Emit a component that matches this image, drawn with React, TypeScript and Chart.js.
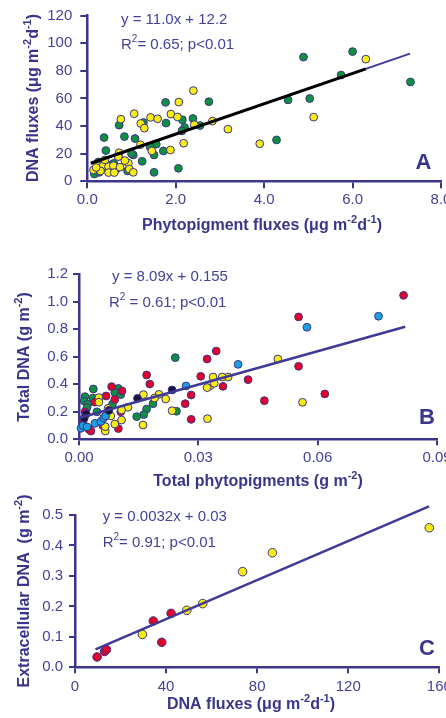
import React, { useEffect, useRef } from "react";
import { Chart, registerables } from "chart.js";

Chart.register(...registerables);

const PAGE_W = 446;
const PAGE_H = 718;
const FONT = '"Liberation Sans", Arial, Helvetica, sans-serif';
const AXIS_COLOR = "#3b368c";
const TEXT_COLOR = "#45419a";
const TITLE_COLOR = "#3a358b";
const PT_BORDER = "#3a3584";
const GREEN = "#0f9040";
const YELLOW = "#f8ec10";
const RED = "#e1022c";
const BLUE = "#1ba1e2";
const BLACK = "#16113a";
const FIT_PURPLE = "#3f3a97";
const FIT_BLACK = "#000000";

// ---------------- Panel A ----------------
const aXTicks = [0, 2, 4, 6, 8];
const aXLabels = ["0.0", "2.0", "4.0", "6.0", "8.0"];
const aYTicks = [0, 20, 40, 60, 80, 100, 120];
const aYLabels = ["0", "20", "40", "60", "80", "100", "120"];
const aGreenX = [4.89, 6.0, 7.31, 5.74, 4.54, 5.03, 4.28, 2.75, 1.77, 1.78, 2.39, 2.15, 2.2, 2.14, 2.55, 1.27, 0.72, 0.38, 0.84, 1.08, 0.42, 1.04, 1.24, 1.51, 1.51, 2.06, 1.72, 1.56, 1.42, 0.91, 0.16, 0.27, 0.35, 0.55, 0.65, 0.25, 0.7, 0.45, 1.0, 0.6, 0.4];
const aGreenY = [90, 94, 72, 77, 59, 60, 30, 57.7, 57.2, 42.2, 45.5, 44.6, 39, 36.5, 40.4, 42.6, 40.7, 31.7, 32.4, 31, 22.3, 19.1, 14.5, 19.1, 6.5, 9.4, 22, 26.9, 25, 7.5, 5.3, 6.5, 12, 12, 8.5, 14, 18, 9, 20, 13, 13.5];
const aYellowX = [6.3, 5.12, 3.9, 2.4, 2.07, 1.06, 0.76, 1.43, 1.59, 1.89, 2.04, 1.21, 1.29, 2.42, 2.83, 3.18, 2.18, 1.88, 1.46, 1.2, 0.72, 0.14, 0.235, 0.36, 0.48, 0.59, 0.48, 0.61, 0.74, 0.93, 0.95, 1.04, 0.7, 0.4, 0.3, 0.2, 0.85];
const aYellowY = [88.5, 46.5, 27.2, 65.7, 57.4, 49, 45, 46.3, 45.3, 48.7, 46.6, 41.9, 38.5, 41, 43.6, 37.8, 27.6, 22.7, 22, 26.5, 20.7, 8.2, 11.3, 11.3, 10.6, 11.3, 6.3, 6.3, 10.2, 13.1, 8.9, 6.5, 17.9, 15.5, 7.5, 10, 15];
const aFitX = [0.08, 7.3];
const aFitY = [13.1, 92.5];
const aFitBlackX = [0.08, 6.3];
const aFitBlackY = [13.1, 81.5];

// ---------------- Panel B ----------------
const bXTicks = [0, 0.03, 0.06, 0.09];
const bXLabels = ["0.00", "0.03", "0.06", "0.09"];
const bYTicks = [0, 0.2, 0.4, 0.6, 0.8, 1.0, 1.2];
const bYLabels = ["0.0", "0.2", "0.4", "0.6", "0.8", "1.0", "1.2"];
const bRedX = [0.0816, 0.0552, 0.0552, 0.0618, 0.0466, 0.0425, 0.0362, 0.0345, 0.0322, 0.0306, 0.0282, 0.0282, 0.0267, 0.017, 0.0178, 0.0082, 0.0068, 0.0108, 0.009, 0.0025, 0.0099, 0.0015, 0.004, 0.0105, 0.003, 0.006, 0.001];
const bRedY = [1.047, 0.89, 0.531, 0.33, 0.281, 0.434, 0.385, 0.642, 0.584, 0.458, 0.322, 0.145, 0.259, 0.468, 0.402, 0.383, 0.315, 0.352, 0.29, 0.073, 0.078, 0.2, 0.27, 0.2, 0.06, 0.1, 0.12];
const bGreenX = [0.0242, 0.0245, 0.0186, 0.017, 0.0163, 0.0145, 0.0036, 0.0015, 0.0013, 0.0022, 0.0099, 0.009, 0.0105, 0.0084, 0.0035, 0.002, 0.0045];
const bGreenY = [0.594, 0.204, 0.259, 0.22, 0.18, 0.165, 0.366, 0.31, 0.279, 0.255, 0.37, 0.34, 0.325, 0.255, 0.3, 0.23, 0.2];
const bYellowX = [0.05, 0.0562, 0.0323, 0.0375, 0.036, 0.0337, 0.033, 0.0322, 0.034, 0.0234, 0.0218, 0.0201, 0.0162, 0.0161, 0.0123, 0.0107, 0.0107, 0.009, 0.0066, 0.0066, 0.005, 0.005, 0.0073, 0.019, 0.008];
const bYellowY = [0.584, 0.269, 0.15, 0.453, 0.453, 0.453, 0.39, 0.376, 0.407, 0.208, 0.293, 0.327, 0.325, 0.104, 0.233, 0.213, 0.14, 0.111, 0.06, 0.092, 0.303, 0.27, 0.225, 0.3, 0.17];
const bBlueX = [0.0753, 0.0573, 0.04, 0.0269, 0.0005, 0.001, 0.004, 0.0055, 0.0062, 0.0067, 0.002];
const bBlueY = [0.895, 0.815, 0.545, 0.388, 0.08, 0.1, 0.116, 0.13, 0.155, 0.17, 0.09];
const bBlackX = [0.0234, 0.0147, 0.0075, 0.0018, 0.0013];
const bBlackY = [0.359, 0.298, 0.21, 0.185, 0.153];
const bFitX = [0.0, 0.082];
const bFitY = [0.155, 0.818];

// ---------------- Panel C ----------------
const cXTicks = [0, 40, 80, 120, 160];
const cXLabels = ["0", "40", "80", "120", "160"];
const cYTicks = [0, 0.1, 0.2, 0.3, 0.4, 0.5];
const cYLabels = ["0.0", "0.1", "0.2", "0.3", "0.4", "0.5"];
const cRedX = [9.7, 13.0, 13.8, 34.4, 38.1, 42.2];
const cRedY = [0.034, 0.052, 0.058, 0.152, 0.082, 0.177];
const cYellowX = [29.6, 49.1, 56.1, 73.6, 86.7, 155.6];
const cYellowY = [0.108, 0.187, 0.209, 0.314, 0.376, 0.458];
const cFitX = [9, 155.5];
const cFitY = [0.059, 0.528];

type Seg = { t: string; sup?: boolean };
type TextItem = {
  segs: Seg[];
  x: number;
  y: number;
  size: number;
  bold?: boolean;
  align: "left" | "center";
  rot?: boolean;
  color: string;
};

function fontOf(size: number, bold?: boolean) {
  return `${bold ? "bold " : ""}${size}px ${FONT}`;
}

function drawRich(ctx: CanvasRenderingContext2D, item: TextItem) {
  const supSize = Math.round(item.size * 0.68);
  let total = 0;
  const widths = item.segs.map((s) => {
    ctx.font = fontOf(s.sup ? supSize : item.size, item.bold);
    const w = ctx.measureText(s.t).width;
    total += w;
    return w;
  });
  ctx.save();
  ctx.translate(item.x, item.y);
  if (item.rot) ctx.rotate(-Math.PI / 2);
  let x = item.align === "center" ? -total / 2 : 0;
  ctx.fillStyle = item.color;
  ctx.textBaseline = "middle";
  ctx.textAlign = "left";
  item.segs.forEach((s, i) => {
    ctx.font = fontOf(s.sup ? supSize : item.size, item.bold);
    ctx.fillText(s.t, x, s.sup ? -item.size * 0.36 : 0);
    x += widths[i];
  });
  ctx.restore();
}

function textPlugin(items: TextItem[]) {
  return {
    id: "richText",
    afterDraw(chart: any) {
      const ctx = chart.ctx as CanvasRenderingContext2D;
      items.forEach((it) => drawRich(ctx, it));
    },
  };
}

function pts(xs: number[], ys: number[]) {
  return xs.map((x, i) => ({ x, y: ys[i] }));
}

function scatterSet(xs: number[], ys: number[], color: string, r: number) {
  return {
    data: pts(xs, ys),
    backgroundColor: color,
    borderColor: PT_BORDER,
    borderWidth: 1,
    pointRadius: r,
    pointHoverRadius: r,
    clip: false,
    order: 2,
  };
}

function lineSet(xs: number[], ys: number[], color: string, w: number, order: number) {
  return {
    data: pts(xs, ys),
    borderColor: color,
    backgroundColor: color,
    borderWidth: w,
    pointRadius: 0,
    showLine: true,
    fill: false,
    tension: 0,
    clip: false,
    order,
  };
}

type Area = { left: number; right: number; top: number; bottom: number };
type AxisSpec = {
  min: number;
  max: number;
  ticks: number[];
  labels: string[];
  tickLength: number;
  padding: number;
};

function axisOpts(spec: AxisSpec, isX: boolean) {
  return {
    type: "linear",
    min: spec.min,
    max: spec.max,
    afterBuildTicks: (s: any) => {
      s.ticks = spec.ticks.map((v) => ({ value: v }));
    },
    afterFit: (s: any) => {
      if (isX) {
        s.height = 40;
      }
      s.paddingLeft = 0;
      s.paddingRight = 0;
      s.paddingTop = 0;
      s.paddingBottom = 0;
    },
    ticks: {
      callback: (_v: any, i: number) => spec.labels[i],
      color: TEXT_COLOR,
      font: { family: FONT, size: 15 },
      padding: spec.padding,
      maxRotation: 0,
      minRotation: 0,
      autoSkip: false,
    },
    grid: {
      drawOnChartArea: false,
      drawTicks: true,
      tickLength: spec.tickLength,
      tickColor: AXIS_COLOR,
      tickWidth: 2,
      color: AXIS_COLOR,
      lineWidth: 2,
    },
    border: { display: true, color: AXIS_COLOR, width: 2.5 },
  };
}

function buildConfig(area: Area, xs: AxisSpec, ys: AxisSpec, datasets: any[], texts: TextItem[]) {
  return {
    type: "scatter",
    data: { datasets },
    options: {
      responsive: false,
      animation: false,
      devicePixelRatio: 1,
      events: [],
      layout: {
        padding: {
          left: 0,
          top: area.top,
          right: PAGE_W - area.right,
          bottom: PAGE_H - area.bottom - 40,
        },
      },
      plugins: {
        legend: { display: false },
        tooltip: { enabled: false },
        title: { display: false },
      },
      scales: {
        x: axisOpts(xs, true),
        y: {
          ...axisOpts(ys, false),
          afterFit: (s: any) => {
            s.width = area.left;
            s.paddingLeft = 0;
            s.paddingRight = 0;
            s.paddingTop = 0;
            s.paddingBottom = 0;
          },
        },
      },
    },
    plugins: [textPlugin(texts)],
  };
}

const configA = buildConfig(
  { left: 87.3, right: 441, top: 15.7, bottom: 181.3 },
  { min: 0, max: 8, ticks: aXTicks, labels: aXLabels, tickLength: 7, padding: 3 },
  { min: 0, max: 120, ticks: aYTicks, labels: aYLabels, tickLength: 7, padding: 8 },
  [
    lineSet(aFitBlackX, aFitBlackY, FIT_BLACK, 3, 0),
    lineSet(aFitX, aFitY, FIT_PURPLE, 2, 1),
    scatterSet(aYellowX, aYellowY, YELLOW, 3.9),
    scatterSet(aGreenX, aGreenY, GREEN, 3.9),
  ],
  [
    { segs: [{ t: "y = 11.0x + 12.2" }], x: 121, y: 20, size: 15, align: "left", color: TEXT_COLOR },
    { segs: [{ t: "R" }, { t: "2", sup: true }, { t: "= 0.65; p<0.01" }], x: 121, y: 44.7, size: 15, align: "left", color: TEXT_COLOR },
    { segs: [{ t: "A" }], x: 423.5, y: 162.5, size: 22, bold: true, align: "center", color: TITLE_COLOR },
    { segs: [{ t: "Phytopigment fluxes (μg m" }, { t: "-2", sup: true }, { t: "d" }, { t: "-1", sup: true }, { t: ")" }], x: 262, y: 226, size: 16, bold: true, align: "center", color: TITLE_COLOR },
    { segs: [{ t: "DNA fluxes (μg m" }, { t: "-2", sup: true }, { t: "d" }, { t: "-1", sup: true }, { t: ")" }], x: 34, y: 98, size: 16, bold: true, align: "center", rot: true, color: TITLE_COLOR },
  ]
);

const configB = buildConfig(
  { left: 79, right: 437, top: 274.3, bottom: 439.3 },
  { min: 0, max: 0.09, ticks: bXTicks, labels: bXLabels, tickLength: 6, padding: 4 },
  { min: 0, max: 1.2, ticks: bYTicks, labels: bYLabels, tickLength: 6, padding: 5 },
  [
    lineSet(bFitX, bFitY, FIT_PURPLE, 2.5, 0),
    scatterSet(bBlackX, bBlackY, BLACK, 3.9),
    scatterSet(bBlueX, bBlueY, BLUE, 3.9),
    scatterSet(bYellowX, bYellowY, YELLOW, 3.9),
    scatterSet(bRedX, bRedY, RED, 3.9),
    scatterSet(bGreenX, bGreenY, GREEN, 3.9),
  ],
  [
    { segs: [{ t: "y = 8.09x + 0.155" }], x: 112, y: 276.7, size: 15, align: "left", color: TEXT_COLOR },
    { segs: [{ t: "R" }, { t: "2", sup: true }, { t: " = 0.61; p<0.01" }], x: 109, y: 302.5, size: 15, align: "left", color: TEXT_COLOR },
    { segs: [{ t: "B" }], x: 427, y: 418.3, size: 22, bold: true, align: "center", color: TITLE_COLOR },
    { segs: [{ t: "Total phytopigments (g m" }, { t: "-2", sup: true }, { t: ")" }], x: 258, y: 482, size: 16, bold: true, align: "center", color: TITLE_COLOR },
    { segs: [{ t: "Total DNA (g m" }, { t: "-2", sup: true }, { t: ")" }], x: 24.5, y: 357, size: 16, bold: true, align: "center", rot: true, color: TITLE_COLOR },
  ]
);

const configC = buildConfig(
  { left: 75, right: 439.3, top: 515, bottom: 667.3 },
  { min: 0, max: 160, ticks: cXTicks, labels: cXLabels, tickLength: 6, padding: 5 },
  { min: 0, max: 0.5, ticks: cYTicks, labels: cYLabels, tickLength: 6, padding: 6 },
  [
    lineSet(cFitX, cFitY, FIT_PURPLE, 2.5, 0),
    scatterSet(cYellowX, cYellowY, YELLOW, 4.3),
    scatterSet(cRedX, cRedY, RED, 4.3),
  ],
  [
    { segs: [{ t: "y = 0.0032x + 0.03" }], x: 102.7, y: 517, size: 15, align: "left", color: TEXT_COLOR },
    { segs: [{ t: "R" }, { t: "2", sup: true }, { t: "= 0.91; p<0.01" }], x: 102.7, y: 542.5, size: 15, align: "left", color: TEXT_COLOR },
    { segs: [{ t: "C" }], x: 427, y: 649, size: 22, bold: true, align: "center", color: TITLE_COLOR },
    { segs: [{ t: "DNA fluxes (μg m" }, { t: "-2", sup: true }, { t: "d" }, { t: "-1", sup: true }, { t: ")" }], x: 251, y: 705, size: 16, bold: true, align: "center", color: TITLE_COLOR },
    { segs: [{ t: "Extracellular DNA  (g m" }, { t: "-2", sup: true }, { t: ")" }], x: 25, y: 591, size: 16, bold: true, align: "center", rot: true, color: TITLE_COLOR },
  ]
);

function Panel({ config }: { config: any }) {
  const ref = useRef<HTMLCanvasElement>(null);
  useEffect(() => {
    const chart = new Chart(ref.current as HTMLCanvasElement, config);
    return () => chart.destroy();
  }, [config]);
  return (
    <canvas
      ref={ref}
      width={PAGE_W}
      height={PAGE_H}
      style={{ position: "absolute", left: 0, top: 0, width: PAGE_W, height: PAGE_H }}
    />
  );
}

export default function App() {
  return (
    <div
      style={{
        position: "absolute",
        left: 0,
        top: 0,
        width: PAGE_W,
        height: PAGE_H,
        background: "#ffffff",
        overflow: "hidden",
      }}
    >
      <Panel config={configA} />
      <Panel config={configB} />
      <Panel config={configC} />
    </div>
  );
}
